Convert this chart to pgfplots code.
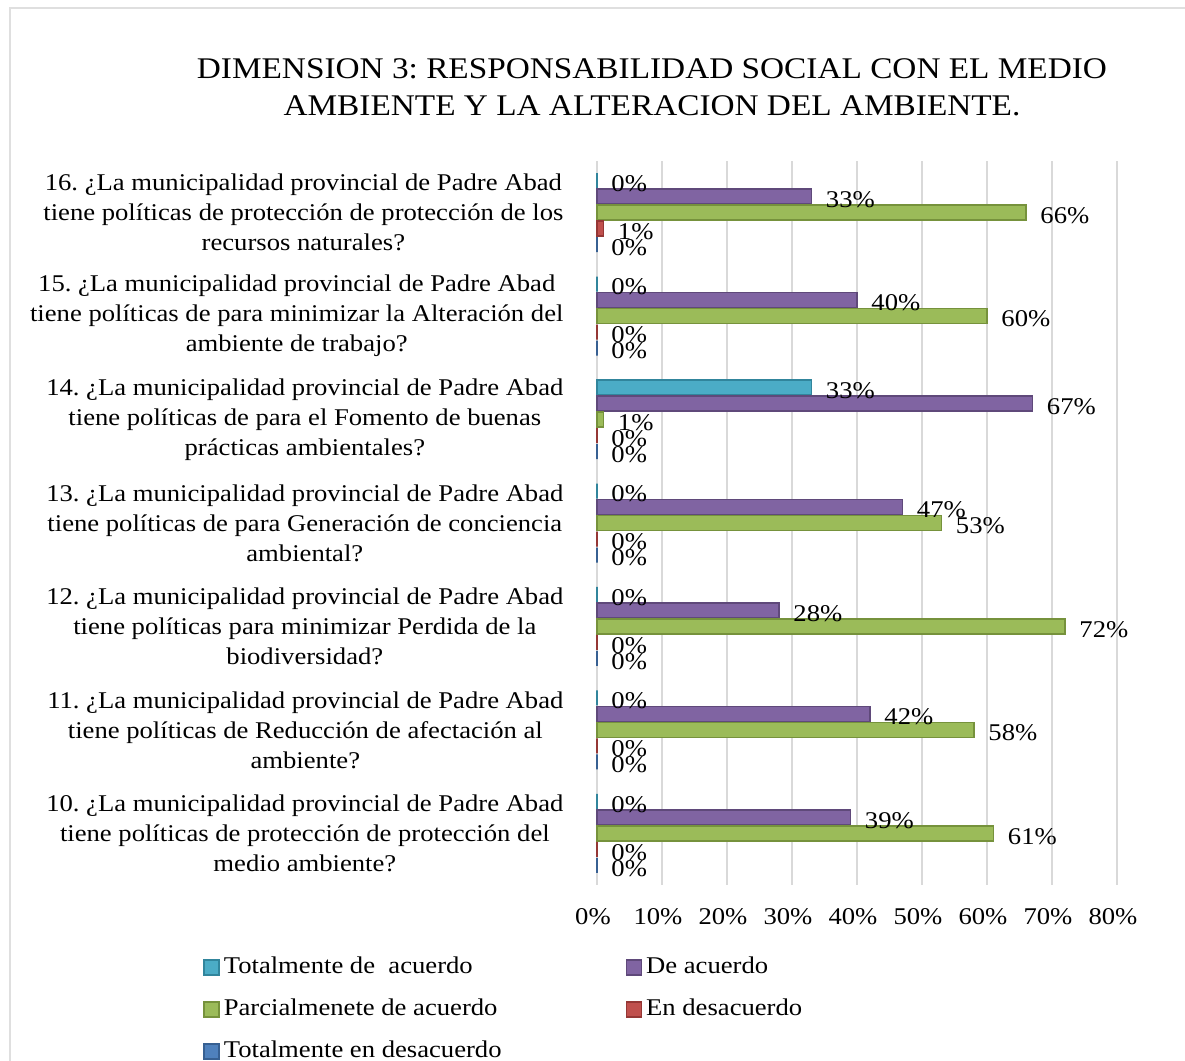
\documentclass[border=0pt]{standalone}
\usepackage{fontspec}
\setmainfont[FakeStretch=1.11]{Liberation Serif}
\usepackage{pgfplots}
\pgfplotsset{compat=1.18}
\frenchspacing
\definecolor{cTeal}{HTML}{4BACC6}
\definecolor{cTealD}{HTML}{31859C}
\definecolor{cPurple}{HTML}{8064A2}
\definecolor{cPurpleD}{HTML}{5F497A}
\definecolor{cGreen}{HTML}{9BBB59}
\definecolor{cGreenD}{HTML}{76923C}
\definecolor{cRed}{HTML}{C0504D}
\definecolor{cRedD}{HTML}{953735}
\definecolor{cBlue}{HTML}{4F81BD}
\definecolor{cBlueD}{HTML}{376092}
\begin{document}
\frenchspacing
\begin{tikzpicture}
\path[use as bounding box] (0,0) rectangle (592.5pt,530.5pt);
\draw[gray!25, line width=0.8pt] (5pt,0) -- (5pt,526.5pt) -- (592.5pt,526.5pt);
\node[align=center, font=\fontsize{15}{18.5}\selectfont] at (326pt,487pt)
  {DIMENSION 3: RESPONSABILIDAD SOCIAL CON EL MEDIO\\AMBIENTE Y LA ALTERACION DEL AMBIENTE.};
\begin{axis}[
  at={(298.5pt,88pt)}, anchor=south west,
  scale only axis, width=260pt, height=362pt,
  xbar, bar width=7.5pt,
  legend image code/.code={\fill[#1] (0pt,-3.75pt) rectangle (7.5pt,3.75pt);},
  xmin=0, xmax=80, ymin=9.5, ymax=16.5,
  clip=false,
  /pgf/number format/assume math mode=true,
  xtick={0,10,...,80},
  xticklabel={\pgfmathprintnumber{\tick}\%},
  xticklabel style={font=\fontsize{12}{14}\selectfont, yshift=-8pt, xshift=-2pt},
  ytick={10,...,16},
  yticklabels={
    {10. ¿La municipalidad provincial de Padre Abad\\tiene políticas de protección de protección del\\medio ambiente?},
    {11. ¿La municipalidad provincial de Padre Abad\\tiene políticas de Reducción de afectación al\\ambiente?},
    {12. ¿La municipalidad provincial de Padre Abad\\tiene políticas para minimizar Perdida de la\\biodiversidad?},
    {13. ¿La municipalidad provincial de Padre Abad\\tiene políticas de para Generación de conciencia\\ambiental?},
    {14. ¿La municipalidad provincial de Padre Abad\\tiene políticas de para el Fomento de buenas\\prácticas ambientales?},
    {15. ¿La municipalidad provincial de Padre Abad\\tiene políticas de para minimizar la Alteración del\\ambiente de trabajo?},
    {16. ¿La municipalidad provincial de Padre Abad\\tiene políticas de protección de protección de los\\recursos naturales?}
  },
  yticklabel style={align=center, font=\fontsize{12}{15}\selectfont, xshift=-9pt},
  axis line style={draw=none},
  tick style={draw=none},
  xmajorgrids, grid style={gray!30, line width=0.9pt},
  nodes near coords={\pgfmathprintnumber{\pgfplotspointmeta}\%},
  every node near coord/.append style={font=\fontsize{12}{14}\selectfont, black, anchor=west, xshift=3.5pt, yshift=-1.5pt},
  legend columns=2,
  legend style={at={(rel axis cs:-0.758,-0.091)}, anchor=north west, draw=none, fill=none,
    inner sep=0pt, font=\fontsize{12}{14}\selectfont,
    nodes={inner sep=2pt, text height=9pt, text depth=3pt},
    row sep=5pt,
    /tikz/every even column/.append style={column sep=60pt}},
  legend cell align=left,
]
\addplot[fill=cTeal, draw=cTealD, line width=0.8pt, bar shift=16pt] coordinates {(0,10) (0,11) (0,12) (0,13) (33,14) (0,15) (0,16)};
\addlegendentry{Totalmente de\ \ acuerdo}
\addplot[fill=cPurple, draw=cPurpleD, line width=0.8pt, bar shift=8pt] coordinates {(39,10) (42,11) (28,12) (47,13) (67,14) (40,15) (33,16)};
\addlegendentry{De acuerdo}
\addplot[fill=cGreen, draw=cGreenD, line width=0.8pt, bar shift=0pt] coordinates {(61,10) (58,11) (72,12) (53,13) (1,14) (60,15) (66,16)};
\addlegendentry{Parcialmenete de acuerdo}
\addplot[fill=cRed, draw=cRedD, line width=0.8pt, bar shift=-8pt] coordinates {(0,10) (0,11) (0,12) (0,13) (0,14) (0,15) (1,16)};
\addlegendentry{En desacuerdo}
\addplot[fill=cBlue, draw=cBlueD, line width=0.8pt, bar shift=-16pt] coordinates {(0,10) (0,11) (0,12) (0,13) (0,14) (0,15) (0,16)};
\addlegendentry{Totalmente en desacuerdo}
\end{axis}
\end{tikzpicture}
\end{document}
